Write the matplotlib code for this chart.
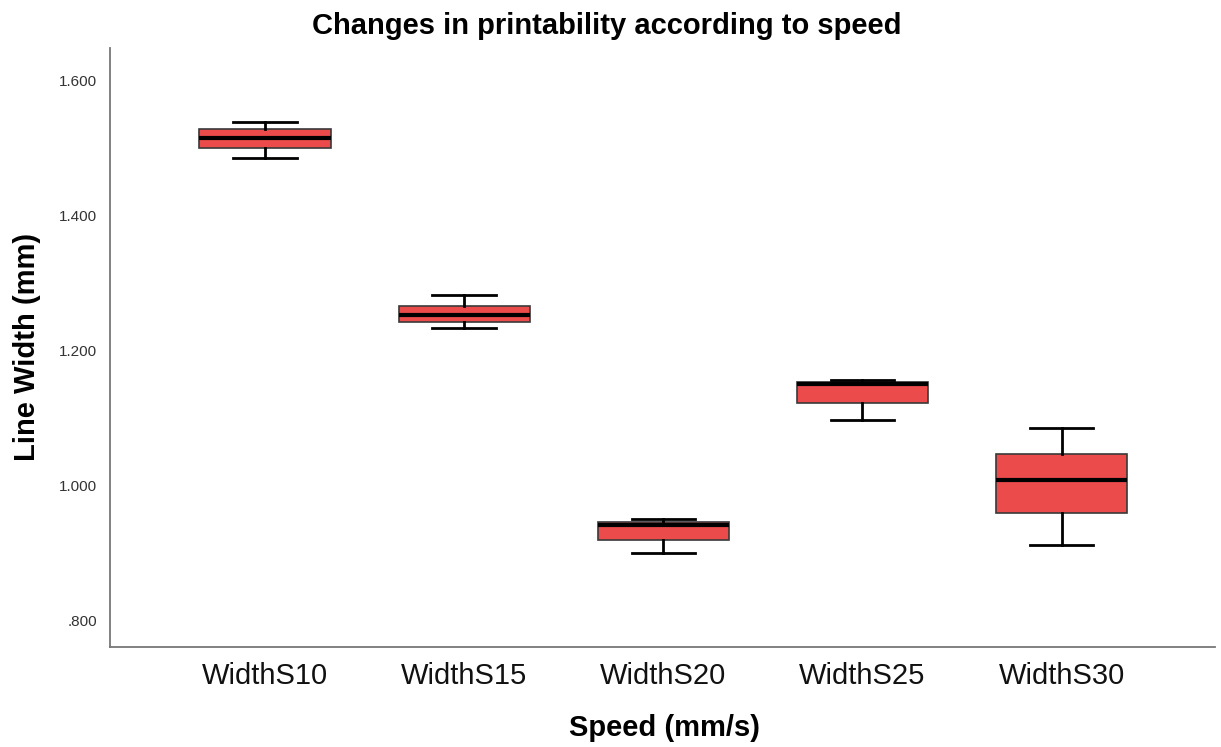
import matplotlib
matplotlib.use("Agg")
import matplotlib.pyplot as plt
from matplotlib.ticker import FuncFormatter

# ---- data ----
categories = ["WidthS10", "WidthS15", "WidthS20", "WidthS25", "WidthS30"]
whisker_low = [1.485, 1.233, 0.900, 1.097, 0.912]
q1 = [1.501, 1.242, 0.920, 1.123, 0.960]
median = [1.515, 1.253, 0.941, 1.150, 1.008]
q3 = [1.528, 1.267, 0.946, 1.154, 1.047]
whisker_high = [1.539, 1.282, 0.950, 1.157, 1.086]
y_ticks = [0.8, 1.0, 1.2, 1.4, 1.6]

plt.rcParams['font.family'] = ['Liberation Sans', 'DejaVu Sans']

fig = plt.figure(figsize=(12.21, 7.47), dpi=100)
ax = fig.add_axes([0.090, 0.134, 0.905, 0.802])

stats = []
for i, c in enumerate(categories):
    stats.append(dict(label=c, whislo=whisker_low[i], q1=q1[i], med=median[i],
                      q3=q3[i], whishi=whisker_high[i], fliers=[]))

positions = list(range(len(categories)))
ax.bxp(stats, positions=positions, widths=0.66, patch_artist=True,
       showfliers=False, capwidths=0.32,
       boxprops=dict(facecolor='#EC4B4B', edgecolor='#3a3a3a', linewidth=1.2),
       medianprops=dict(color='black', linewidth=3.0),
       whiskerprops=dict(color='black', linewidth=2.0),
       capprops=dict(color='black', linewidth=2.0))

ax.set_xlim(-0.78, 4.77)
ax.set_ylim(0.761, 1.649)
ax.set_yticks(y_ticks)
ax.yaxis.set_major_formatter(FuncFormatter(
    lambda v, p: ("%.3f" % v).lstrip('0') if v < 1 else "%.3f" % v))
ax.set_xticks(positions)
ax.set_xticklabels(categories)

ax.tick_params(axis='y', length=0, pad=9, labelsize=11, labelcolor='#333333')
ax.tick_params(axis='x', length=0, pad=11, labelsize=21, labelcolor='#111111')

for s in ['top', 'right']:
    ax.spines[s].set_visible(False)
for s in ['left', 'bottom']:
    ax.spines[s].set_color('#777777')
    ax.spines[s].set_linewidth(1.3)

ax.set_title("Changes in printability according to speed", fontsize=21,
             fontweight='bold', pad=10, x=0.45)
ax.set_xlabel("Speed (mm/s)", fontsize=21, fontweight='bold')
ax.xaxis.set_label_coords(0.502, -0.112)
ax.set_ylabel("Line Width (mm)", fontsize=21, fontweight='bold')
ax.yaxis.set_label_coords(-0.062, 0.5)

fig.savefig("out.png", dpi=100, facecolor='white')
